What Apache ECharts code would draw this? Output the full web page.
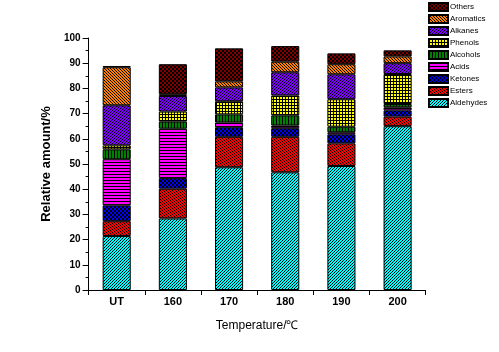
<!DOCTYPE html>
<html>
<head>
<meta charset="utf-8">
<script src="https://cdn.jsdelivr.net/npm/echarts@6/dist/echarts.min.js"></script>
<style>
  html, body { margin: 0; padding: 0; background: #fff; }
  #chart { width: 499px; height: 352px; }
</style>
</head>
<body>
<div id="chart"></div>
<script>
// data (relative amount, %)
const categories = ['UT', '160', '170', '180', '190', '200'];
const aldehydes = [21.4, 28.4, 48.7, 46.7, 49.2, 65.0];
const esters    = [5.9, 11.8, 12.1, 14.1, 9.0, 3.8];
const ketones   = [6.3, 4.2, 3.8, 3.4, 3.6, 2.5];
const acids     = [18.3, 19.6, 1.9, 1.1, 0.8, 1.2];
const alcohols  = [3.9, 2.8, 3.2, 4.0, 2.2, 1.3];
const phenols   = [1.6, 4.0, 5.2, 7.9, 10.9, 11.9];
const alkanes   = [15.9, 6.2, 5.5, 9.2, 9.9, 4.3];
const aromatics = [15.1, 0.7, 2.4, 4.2, 4.0, 2.7];
const others    = [0.5, 11.9, 13.1, 6.2, 4.3, 2.4];
const yTicks = [0, 10, 20, 30, 40, 50, 60, 70, 80, 90, 100];

// small pixel tiles to mimic the hatch fills
function pattern(bg, kind) {
  const size = kind === 'check' ? 4 : 3;
  const c = document.createElement('canvas');
  c.width = size; c.height = size;
  const ctx = c.getContext('2d');
  ctx.fillStyle = bg;
  ctx.fillRect(0, 0, size, size);
  ctx.fillStyle = '#000';
  for (let x = 0; x < size; x++) {
    for (let y = 0; y < size; y++) {
      let on = false;
      if (kind === 'fwd') on = (x + y) % 3 === 0;
      else if (kind === 'back') on = ((x - y) % 3 + 3) % 3 === 0;
      else if (kind === 'check') on = (Math.floor(x / 2) + Math.floor(y / 2)) % 2 === 0;
      else if (kind === 'hline') on = y === 0;
      else if (kind === 'vline') on = x === 0;
      else if (kind === 'grid') on = x === 0 || y === 0;
      if (on) ctx.fillRect(x, y, 1, 1);
    }
  }
  return { image: c, repeat: 'repeat' };
}

const stackDefs = [
  ['Aldehydes', aldehydes, '#00ffff', 'fwd'],
  ['Esters', esters, '#ff0000', 'back'],
  ['Ketones', ketones, '#0000ff', 'check'],
  ['Acids', acids, '#ff00ff', 'hline'],
  ['Alcohols', alcohols, '#008000', 'vline'],
  ['Phenols', phenols, '#ffff00', 'grid'],
  ['Alkanes', alkanes, '#8000ff', 'fwd'],
  ['Aromatics', aromatics, '#ff8000', 'back'],
  ['Others', others, '#800000', 'check']
];

const series = stackDefs.map(([name, values, bg, kind]) => ({
  name: name,
  type: 'bar',
  stack: 'total',
  barWidth: '50%',
  data: values,
  itemStyle: {
    color: pattern(bg, kind),
    borderColor: '#000',
    borderWidth: 1
  }
}));

const chart = echarts.init(document.getElementById('chart'));
chart.setOption({
  animation: false,
  textStyle: { fontFamily: 'Liberation Sans, Arial, sans-serif' },
  legend: {
    orient: 'vertical',
    left: 428,
    top: 2,
    icon: 'rect',
    itemWidth: 19,
    itemHeight: 8,
    itemGap: 2,
    padding: 0,
    data: stackDefs.map(d => d[0]).reverse(),
    textStyle: { fontSize: 8, color: '#000', padding: [0, 0, 0, -3] }
  },
  grid: { left: 88.6, right: 73.3, top: 38, bottom: 62 },
  xAxis: {
    type: 'category',
    data: categories,
    name: 'Temperature/\u2103',
    nameLocation: 'middle',
    nameGap: 30,
    nameTextStyle: { fontSize: 12, color: '#000' },
    axisLine: { lineStyle: { color: '#000', width: 1 } },
    axisTick: { show: true, length: 5, lineStyle: { color: '#000' } },
    axisLabel: { color: '#000', fontSize: 11, fontWeight: 'bold', margin: 6 }
  },
  yAxis: {
    type: 'value',
    min: yTicks[0],
    max: yTicks[yTicks.length - 1],
    interval: 10,
    name: 'Relative amount/%',
    nameLocation: 'middle',
    nameGap: 34,
    nameTextStyle: { fontSize: 13, fontWeight: 'bold', color: '#000' },
    axisLine: { show: true, lineStyle: { color: '#000', width: 1 } },
    axisTick: { show: true, length: 6, lineStyle: { color: '#000' } },
    minorTick: { show: true, splitNumber: 2, length: 3, lineStyle: { color: '#000' } },
    splitLine: { show: false },
    axisLabel: { color: '#000', fontSize: 10, fontWeight: 'bold', margin: 8 }
  },
  series: series
});
</script>
</body>
</html>
